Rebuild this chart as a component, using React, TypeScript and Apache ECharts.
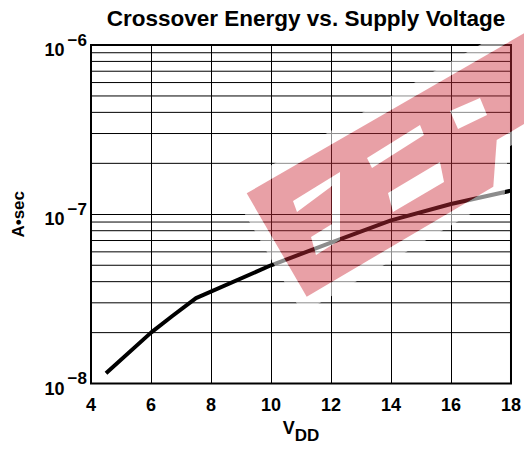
import React, { useEffect, useRef } from "react";
import * as echarts from "echarts";

// ---- data ----
const VDD = [4.5, 6, 6.7, 7.5, 10, 12, 14, 16, 18];
const ENERGY = [1.15e-8, 2.0e-8, 2.5e-8, 3.2e-8, 5.0e-8, 6.8e-8, 9.2e-8, 1.15e-7, 1.38e-7];
const X_MIN = 4;
const X_MAX = 18;
const X_STEP = 2;
const Y_MIN = 1e-8;
const Y_MAX = 1e-6;
const MINOR_Y = [
  2e-8, 3e-8, 4e-8, 5e-8, 6e-8, 7e-8, 8e-8, 9e-8,
  2e-7, 3e-7, 4e-7, 5e-7, 6e-7, 7e-7, 8e-7, 9e-7,
];
const TITLE = "Crossover Energy vs. Supply Voltage";
const Y_NAME = "A•sec";

// ---- watermark outline (decoration, page pixels) ----
const WM_OUTER = [[246.7, 193.3], [306.7, 296.7], [493.3, 186.7], [496.7, 140], [524, 124], [524, 33.3]];
const WM_HOLES = [
  [[293, 201], [340, 172], [340, 240], [316, 255], [311, 237], [332, 224], [332, 186], [297, 212]],
  [[367, 158], [420, 125], [424, 135], [372, 168]],
  [[388, 193], [440, 162], [444, 182], [393, 212]],
  [[450, 111], [480, 98], [487, 115], [458, 129]],
];
const HALO = 12;

const polyD = (pts: number[][]) =>
  "M" + pts.map((p) => p[0].toFixed(2) + " " + p[1].toFixed(2)).join(" L") + " Z";

function offsetPolygon(pts: number[][], h: number) {
  const n = pts.length;
  const lines = pts.map((p, i) => {
    const q = pts[(i + 1) % n];
    const dx = q[0] - p[0];
    const dy = q[1] - p[1];
    const len = Math.hypot(dx, dy);
    const nx = -dy / len;
    const ny = dx / len;
    return { px: p[0] + nx * h, py: p[1] + ny * h, dx, dy };
  });
  const out: number[][] = [];
  for (let i = 0; i < n; i++) {
    const a = lines[(i - 1 + n) % n];
    const b = lines[i];
    const det = a.dx * b.dy - a.dy * b.dx;
    if (Math.abs(det) < 1e-9) {
      out.push([b.px, b.py]);
      continue;
    }
    const t = ((b.px - a.px) * b.dy - (b.py - a.py) * b.dx) / det;
    out.push([a.px + a.dx * t, a.py + a.dy * t]);
  }
  return out;
}

let registered = false;
function registerWatermark() {
  if (registered) return;
  const redD = [WM_OUTER, ...WM_HOLES].map(polyD).join(" ");
  const haloD = [
    offsetPolygon(WM_OUTER, HALO),
    [...WM_OUTER].reverse(),
    ...WM_HOLES.map((h) => [...h].reverse()),
  ]
    .map(polyD)
    .join(" ");
  echarts.graphic.registerShape("wmred", echarts.graphic.extendPath(redD, {}) as any);
  echarts.graphic.registerShape("wmhalo", echarts.graphic.extendPath(haloD, {}) as any);
  registered = true;
}

const FONT = "'Liberation Sans', Arial, Helvetica, sans-serif";

export default function App() {
  const ref = useRef<HTMLDivElement>(null);
  useEffect(() => {
    if (!ref.current) return;
    registerWatermark();
    const chart = echarts.init(ref.current, null, { renderer: "svg" });
    const data = VDD.map((v, i) => [v, ENERGY[i]]);
    const minorSeries = MINOR_Y.map((v) => ({
      type: "line",
      data: [
        [X_MIN, v],
        [X_MAX, v],
      ],
      symbol: "none",
      silent: true,
      z: 1,
      lineStyle: { color: "#000", width: 1 },
    }));
    chart.setOption({
      animation: false,
      backgroundColor: "#fff",
      textStyle: { fontFamily: FONT },
      title: {
        text: TITLE,
        left: 301,
        textAlign: "center",
        top: 2,
        textStyle: { fontFamily: FONT, fontSize: 22.5, fontWeight: "bold", color: "#000" },
      },
      grid: {
        left: 91,
        right: 13,
        top: 45,
        bottom: 62,
        show: true,
        borderColor: "#000",
        borderWidth: 2,
        backgroundColor: "transparent",
      },
      xAxis: {
        type: "value",
        min: X_MIN,
        max: X_MAX,
        interval: X_STEP,
        name: "{v|V}{s|DD}",
        nameLocation: "middle",
        nameGap: 34,
        nameTextStyle: {
          rich: {
            v: { fontFamily: FONT, fontSize: 18, fontWeight: "bold", color: "#000", padding: [0, 0, 8, 0] },
            s: { fontFamily: FONT, fontSize: 17, fontWeight: "bold", color: "#000", padding: [8, 0, 0, 0] },
          },
        },
        axisLine: { show: false },
        axisTick: { show: false },
        axisLabel: {
          margin: 12,
          fontFamily: FONT,
          fontSize: 18,
          fontWeight: "bold",
          color: "#000",
        },
        splitLine: { show: true, lineStyle: { color: "#000", width: 1 } },
      },
      yAxis: {
        type: "log",
        logBase: 10,
        min: Y_MIN,
        max: Y_MAX,
        name: Y_NAME,
        nameLocation: "middle",
        nameGap: 64,
        nameRotate: 90,
        nameTextStyle: { fontFamily: FONT, fontSize: 17, fontWeight: "bold", color: "#000" },
        axisLine: { show: false },
        axisTick: { show: false },
        axisLabel: {
          margin: 4,
          formatter: (v: number) => "{b|10}{e|−" + Math.round(-Math.log10(v)) + "}",
          rich: {
            b: { fontFamily: FONT, fontSize: 18, fontWeight: "bold", color: "#000", padding: [10, 0, 0, 0] },
            e: { fontFamily: FONT, fontSize: 17, fontWeight: "bold", color: "#000", padding: [0, 0, 10, 3] },
          },
        },
        splitLine: { show: true, lineStyle: { color: "#000", width: 1 } },
      },
      series: [
        ...minorSeries,
        {
          type: "line",
          data,
          showSymbol: false,
          symbol: "none",
          z: 3,
          lineStyle: { color: "#000", width: 4, cap: "butt", join: "round" },
        },
      ],
      graphic: [
        {
          type: "wmhalo",
          z: 50,
          silent: true,
          style: { fill: "rgba(255,255,255,0.55)" },
        },
        {
          type: "wmred",
          z: 51,
          silent: true,
          style: { fill: "rgba(204,44,57,0.45)" },
        },
      ],
    });
    return () => chart.dispose();
  }, []);
  return (
    <div
      ref={ref}
      style={{ position: "fixed", left: 0, top: 0, width: 524, height: 449 }}
    />
  );
}
